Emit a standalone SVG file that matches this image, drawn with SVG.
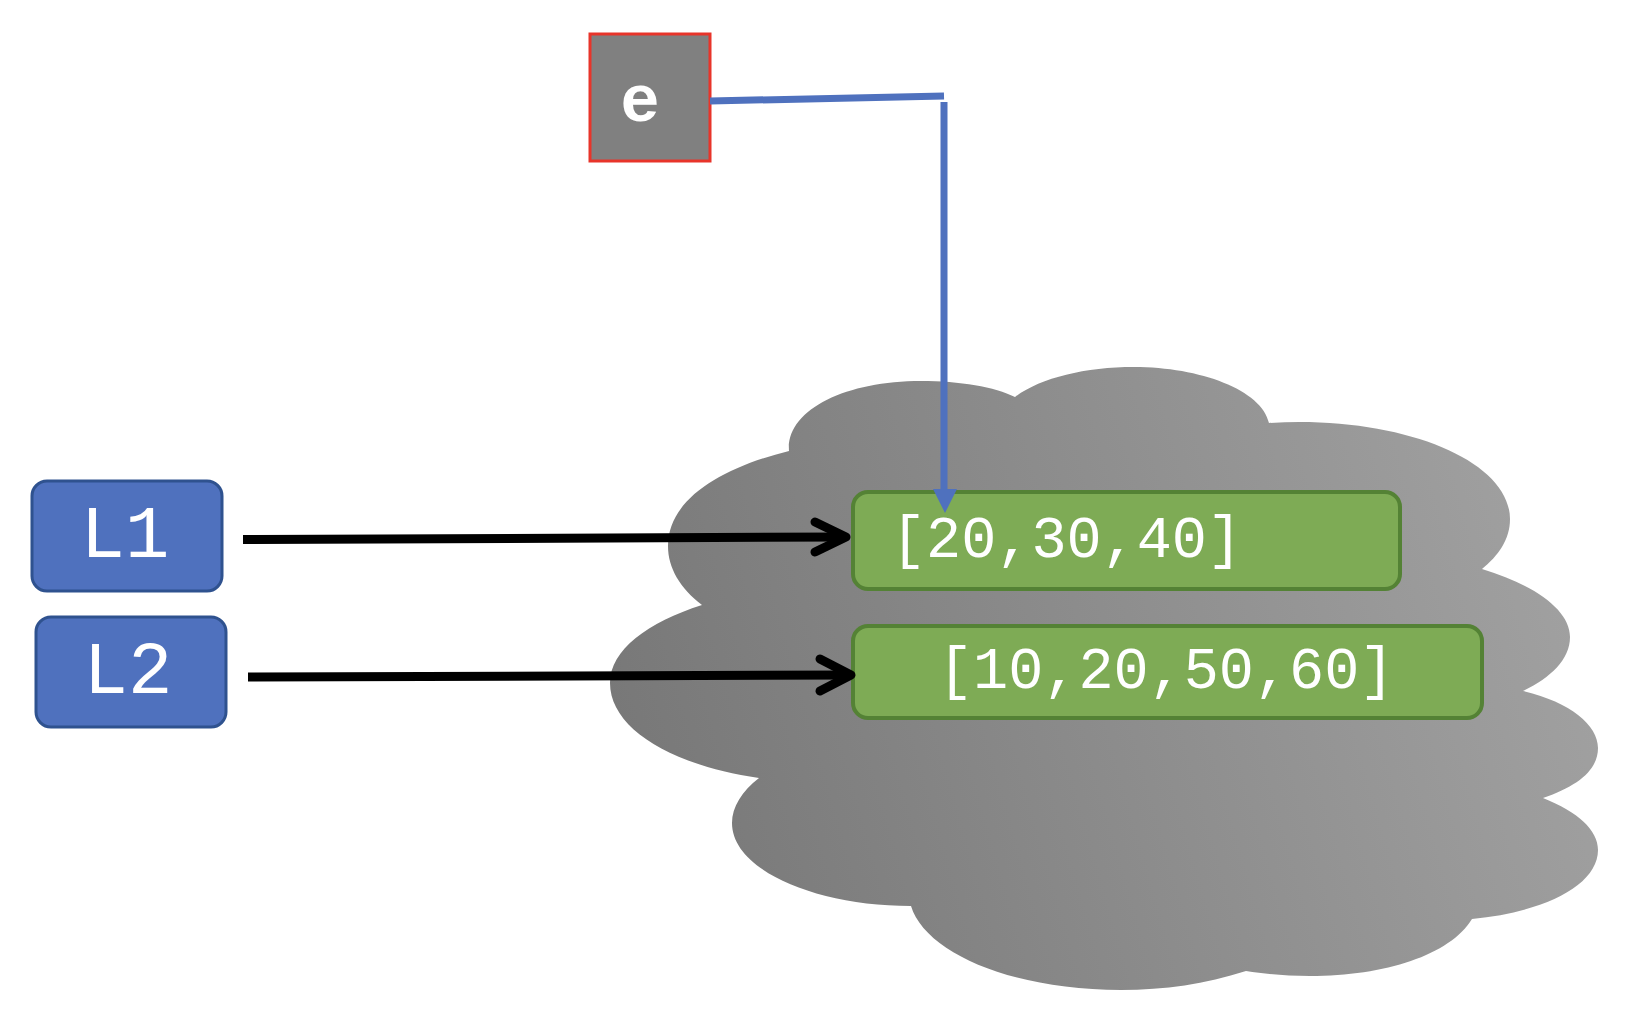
<svg xmlns="http://www.w3.org/2000/svg" width="1636" height="1020" viewBox="0 0 1636 1020">
<style>
.lbox{fill:#4F71BE;stroke:#2F528F;stroke-width:3}
.gbox{fill:#7EAB55;stroke:#548235;stroke-width:4}
.mono{font-family:"Liberation Mono","Courier New",monospace;fill:#FFFFFF}
.blk{stroke:#000;stroke-width:9;fill:none;stroke-linecap:round;stroke-linejoin:round}
.shaft{stroke:#000;stroke-width:9;fill:none;stroke-linecap:butt}
.blu{stroke:#4F71BE;stroke-width:7;fill:none}
</style>
<defs>
<linearGradient id="cg" gradientUnits="userSpaceOnUse" x1="620" y1="820" x2="1598" y2="540">
<stop offset="0" stop-color="#777777"/>
<stop offset="1" stop-color="#A2A2A2"/>
</linearGradient>
</defs>
<rect width="1636" height="1020" fill="#FFFFFF"/>
<g id="cloud">
<path fill="url(#cg)" d="M 789,451 C 786,410 845,381 921,381 C 960,381 995,387 1015,397 C 1040,378 1085,367 1134,367 C 1200,367 1262,390 1269,423 C 1400,415 1510,460 1510,519 C 1510,540 1498,556 1482,569 C 1535,585 1570,610 1570,637 C 1570,660 1550,678 1523,691 C 1570,702 1598,725 1598,748 C 1598,770 1578,786 1543,798 C 1578,812 1598,830 1598,850 C 1598,885 1545,912 1472,919 C 1450,955 1385,976 1310,976 C 1285,976 1265,974 1246,971 C 1205,984 1165,990 1121,990 C 1010,990 925,952 911,906 C 815,906 732,870 732,823 C 732,807 742,791 759,778 C 670,765 610,728 610,683 C 610,650 648,622 702,605 C 680,588 668,568 668,546 C 668,500 720,468 789,451 Z"/>
</g>
<g id="e">
<rect x="590" y="34" width="120" height="127" fill="#808080" stroke="#E8342A" stroke-width="3"/>
<text class="mono" x="640" y="121" font-size="66" font-weight="bold" text-anchor="middle">e</text>
</g>
<g id="L1">
<rect class="lbox" x="32" y="481" width="190" height="110" rx="15"/>
<text class="mono" x="125" y="557" font-size="74" text-anchor="middle">L1</text>
</g>
<g id="L2">
<rect class="lbox" x="36" y="617" width="190" height="110" rx="15"/>
<text class="mono" x="128" y="693" font-size="74" text-anchor="middle">L2</text>
</g>
<g id="list1">
<rect class="gbox" x="853" y="492" width="547" height="97" rx="15"/>
<text class="mono" x="891" y="557" font-size="58.5">[20,30,40]</text>
</g>
<g id="list2">
<rect class="gbox" x="853" y="626" width="629" height="92" rx="15"/>
<text class="mono" x="938" y="688" font-size="58.5">[10,20,50,60]</text>
</g>
<g id="connectors">
<path class="shaft" d="M 243,539.5 L 845,537"/>
<path class="blk" d="M 815,522 L 846,537 L 815,552"/>
<path class="shaft" d="M 248,677 L 850,675"/>
<path class="blk" d="M 820,659 L 851,675 L 820,691"/>
<path class="blu" d="M 710,101 L 944,96"/>
<path class="blu" d="M 944,102 L 944,492"/>
<polygon points="933,489 957,489 945,513" fill="#4F71BE"/>
</g>
</svg>
